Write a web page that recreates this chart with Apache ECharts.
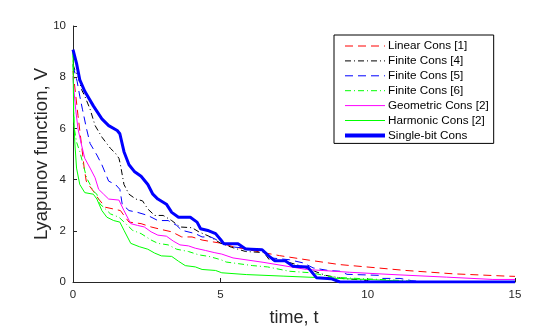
<!DOCTYPE html>
<html>
<head>
<meta charset="utf-8">
<script src="https://cdn.jsdelivr.net/npm/echarts@6/dist/echarts.min.js"></script>
<style>
  html, body { margin: 0; padding: 0; background: #fff; }
  #chart { width: 560px; height: 332px; }
</style>
</head>
<body>
<div id="chart"></div>
<script>
// [t, V] samples
var linearCons = [[0,8.24],[0.05,8.2],[0.17,6.5],[0.29,5.35],[0.38,4.45],[0.45,3.94],[0.52,3.81],[0.69,3.55],[0.87,3.24],[1.1,2.92],[1.38,2.85],[1.61,2.79],[1.73,2.6],[1.9,2.34],[2.31,2.28],[2.65,2.15],[3.0,2.05],[3.35,1.96],[3.69,1.76],[4.04,1.76],[4.38,1.64],[4.73,1.57],[5.05,1.51],[5.43,1.38],[6.45,1.15],[7.01,1.03],[8.03,0.85],[9.05,0.68],[9.95,0.59],[11.3,0.45],[12.9,0.32],[14.7,0.23],[15,0.22]];
var finite4 = [[0,8.5],[0.06,8.29],[0.17,8.03],[0.29,7.52],[0.4,7.26],[0.58,6.75],[0.75,6.11],[0.98,5.66],[1.27,5.22],[1.44,5.03],[1.56,4.83],[1.61,4.58],[1.73,3.81],[1.9,3.43],[2.13,3.24],[2.36,3.17],[2.54,2.85],[2.77,2.6],[3.06,2.6],[3.35,2.4],[3.63,2.15],[4.04,2.12],[4.27,1.96],[4.61,1.79],[5.02,1.51],[5.37,1.36],[5.86,1.19],[6.48,1.15],[6.66,0.87],[7.2,0.81],[7.7,0.64],[8.2,0.42],[8.57,0.26],[9.19,0.13],[9.8,0.08],[10.2,0],[15,0]];
var finite5 = [[0,8.45],[0.06,8.41],[0.14,7.84],[0.23,7.26],[0.32,6.75],[0.46,5.98],[0.58,5.41],[0.81,4.96],[0.98,4.58],[1.21,3.94],[1.44,3.81],[1.59,3.62],[1.67,3.04],[1.9,2.79],[2.19,2.72],[2.54,2.6],[2.88,2.4],[3.23,2.4],[3.52,2.21],[3.69,2.02],[4.15,1.89],[4.38,1.76],[4.67,1.76],[5.02,1.57],[5.49,1.36],[6.35,1.28],[6.72,0.94],[7.34,0.87],[7.83,0.74],[8.15,0.55],[8.66,0.45],[9.06,0.42],[9.3,0.3],[10.4,0.26],[10.5,0.14],[11.1,0.14],[11.5,0.05],[12,0],[15,0]];
var finite6 = [[0,9.0],[0.03,6.11],[0.12,5.47],[0.23,5.09],[0.35,4.58],[0.46,4.07],[0.58,3.81],[0.69,3.55],[0.81,3.43],[0.92,3.04],[1.04,2.92],[1.27,2.66],[1.56,2.53],[1.79,2.28],[2.02,2.02],[2.31,1.89],[2.65,1.64],[2.88,1.51],[3.23,1.45],[3.52,1.28],[3.92,1.19],[4.27,1.06],[4.61,1.0],[5.02,0.87],[5.2,0.78],[6.1,0.64],[6.6,0.59],[7.34,0.42],[8.08,0.36],[8.82,0.19],[9.8,0.13],[10.8,0.08],[11.4,0.04],[11.8,0],[15,0]];
var geometricCons = [[0,8.05],[0.03,7.52],[0.09,6.75],[0.17,5.98],[0.29,5.35],[0.4,4.83],[0.58,4.45],[0.75,4.07],[0.87,3.62],[1.04,3.43],[1.21,3.24],[1.56,3.2],[1.73,2.79],[1.96,2.28],[2.19,2.21],[2.42,2.15],[2.65,1.96],[2.88,1.83],[3.17,1.79],[3.4,1.6],[3.63,1.45],[3.92,1.41],[4.15,1.32],[4.5,1.23],[4.79,1.15],[5.05,1.09],[5.43,0.94],[6.45,0.77],[7.92,0.49],[9.39,0.38],[10.86,0.29],[12.67,0.19],[14.25,0.1],[15,0.1]];
var harmonicCons = [[0,9.0],[0.02,6.75],[0.06,5.47],[0.12,4.45],[0.23,3.81],[0.4,3.49],[0.69,3.43],[0.81,3.24],[0.98,2.79],[1.15,2.53],[1.38,2.4],[1.59,2.34],[1.73,2.02],[1.96,1.51],[2.25,1.38],[2.54,1.28],[2.77,1.13],[3.0,1.02],[3.35,1.0],[3.58,0.81],[3.81,0.64],[4.15,0.59],[4.38,0.49],[4.84,0.45],[5.05,0.36],[5.88,0.29],[7.13,0.23],[8.37,0.17],[9.16,0.13],[9.96,0.1],[11.09,0.04],[11.5,0],[15,0]];
var singleBit = [[0,9.08],[0.12,8.54],[0.23,7.9],[0.4,7.45],[0.69,6.88],[0.98,6.37],[1.21,6.11],[1.5,5.92],[1.59,5.79],[1.73,5.09],[1.9,4.58],[2.08,4.32],[2.31,4.13],[2.54,3.81],[2.71,3.43],[2.88,3.24],[3.17,3.04],[3.35,2.72],[3.58,2.53],[3.98,2.53],[4.21,2.34],[4.33,2.08],[4.61,2.0],[4.84,1.89],[5.02,1.64],[5.12,1.49],[5.6,1.49],[5.86,1.29],[6.42,1.26],[6.66,1.0],[6.85,0.83],[7.2,0.83],[7.46,0.62],[7.96,0.59],[8.26,0.17],[8.76,0.13],[9.06,0],[15,0]];

var xTicks = [0, 5, 10, 15];
var yTicks = [0, 2, 4, 6, 8, 10];

var dashed = [8, 5];
var dashDot = [6, 3, 1, 3];

function line(name, data, color, width, type) {
  return {
    name: name,
    type: "line",
    data: data,
    symbol: "none",
    animation: false,
    lineStyle: { color: color, width: width, type: type },
    itemStyle: { color: color }
  };
}

function legendItem(name, width) {
  return { name: name, lineStyle: { width: width } };
}

var option = {
  textStyle: { fontFamily: "Liberation Sans, Arial, sans-serif" },
  grid: { left: 73, right: 45, top: 26, bottom: 46 },
  legend: {
    orient: "vertical",
    left: 334,
    top: 35,
    padding: [5, 5, 2, 9],
    itemGap: 2.9,
    itemWidth: 40,
    itemHeight: 10,
    borderColor: "#000",
    borderWidth: 1,
    backgroundColor: "#fff",
    itemStyle: { opacity: 0 },
    textStyle: { fontSize: 11.7, color: "#000", padding: [0, 0, 0, -2] },
    data: [
      legendItem("Linear Cons [1]", 1),
      legendItem("Finite Cons [4]", 1),
      legendItem("Finite Cons [5]", 1),
      legendItem("Finite Cons [6]", 1),
      legendItem("Geometric Cons [2]", 1),
      legendItem("Harmonic Cons [2]", 1),
      legendItem("Single-bit Cons", 4)
    ]
  },
  xAxis: {
    type: "value",
    min: xTicks[0],
    max: xTicks[xTicks.length - 1],
    interval: 5,
    name: "time, t",
    nameLocation: "middle",
    nameGap: 27,
    nameMoveOverlap: false,
    nameTextStyle: { fontSize: 18, color: "#262626" },
    axisLine: { lineStyle: { color: "#262626", width: 1 } },
    axisTick: { inside: true, length: 4, lineStyle: { color: "#262626" } },
    axisLabel: { fontSize: 11.5, color: "#262626", margin: 7 },
    splitLine: { show: false }
  },
  yAxis: {
    type: "value",
    min: yTicks[0],
    max: yTicks[yTicks.length - 1],
    interval: 2,
    name: "Lyapunov function, V",
    nameLocation: "middle",
    nameGap: 22,
    nameMoveOverlap: false,
    nameTextStyle: { fontSize: 18.5, color: "#262626" },
    axisLine: { show: true, lineStyle: { color: "#262626", width: 1 } },
    axisTick: { show: true, inside: true, length: 4, lineStyle: { color: "#262626" } },
    axisLabel: { fontSize: 11.5, color: "#262626", margin: 7 },
    splitLine: { show: false }
  },
  series: [
    line("Linear Cons [1]", linearCons, "#ff0000", 1, dashed),
    line("Finite Cons [4]", finite4, "#000000", 1, dashDot),
    line("Finite Cons [5]", finite5, "#0000ff", 1, dashed),
    line("Finite Cons [6]", finite6, "#00ff00", 1, dashDot),
    line("Geometric Cons [2]", geometricCons, "#ff00ff", 1, "solid"),
    line("Harmonic Cons [2]", harmonicCons, "#00ff00", 1, "solid"),
    line("Single-bit Cons", singleBit, "#0000ff", 3, "solid")
  ]
};

var chartObj = echarts.init(document.getElementById("chart"));
chartObj.setOption(option);
window.addEventListener("resize", function() {
  chartObj.resize();
});
</script>
</body>
</html>
